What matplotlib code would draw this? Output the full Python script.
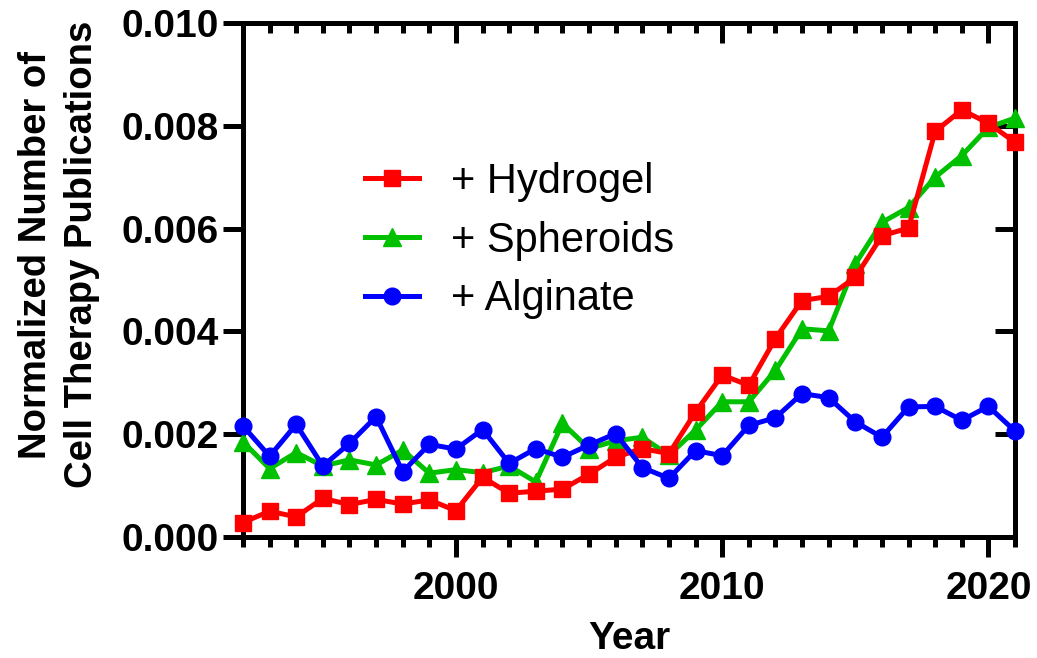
import numpy as np
import matplotlib
matplotlib.use("Agg")
import matplotlib.pyplot as plt
from matplotlib.ticker import MultipleLocator, FormatStrFormatter

plt.rcParams['font.family'] = ['Liberation Sans', 'DejaVu Sans']

years = list(range(1992, 2022))

hydrogel = [0.00028, 0.00050, 0.00039, 0.00075, 0.00063, 0.00073, 0.00064, 0.00072,
            0.00051, 0.00116, 0.00085, 0.00089, 0.00093, 0.00122, 0.00155, 0.00172,
            0.00162, 0.00243, 0.00315, 0.00295, 0.00386, 0.00460, 0.00468, 0.00505,
            0.00586, 0.00601, 0.00789, 0.00831, 0.00805, 0.00768]

spheroids = [0.00185, 0.00133, 0.00164, 0.00138, 0.00150, 0.00140, 0.00169, 0.00124,
             0.00131, 0.00125, 0.00138, 0.00107, 0.00221, 0.00172, 0.00187, 0.00194,
             0.00159, 0.00208, 0.00263, 0.00263, 0.00324, 0.00405, 0.00401, 0.00531,
             0.00612, 0.00641, 0.00700, 0.00742, 0.00797, 0.00815]

alginate = [0.00216, 0.00157, 0.00219, 0.00138, 0.00182, 0.00234, 0.00127, 0.00180,
            0.00171, 0.00209, 0.00143, 0.00172, 0.00155, 0.00179, 0.00201, 0.00135,
            0.00114, 0.00168, 0.00158, 0.00217, 0.00232, 0.00279, 0.00271, 0.00224,
            0.00194, 0.00253, 0.00254, 0.00227, 0.00254, 0.00206]

RED = '#ff0000'
GREEN = '#00c000'
BLUE = '#0000ff'

fig = plt.figure(figsize=(10.37, 6.58), dpi=100)
ax = fig.add_axes([0.2343, 0.184, 0.7445, 0.781])

lw = 3.6
ms = 12
g, = ax.plot(years, spheroids, color=GREEN, lw=lw, marker='^', ms=ms + 1,
             clip_on=False, zorder=3, label='+ Spheroids')
r, = ax.plot(years, hydrogel, color=RED, lw=lw, marker='s', ms=ms,
             clip_on=False, zorder=4, label='+ Hydrogel')
b, = ax.plot(years, alginate, color=BLUE, lw=lw, marker='o', ms=ms,
             clip_on=False, zorder=5, label='+ Alginate')

ax.set_xlim(1992, 2021)
ax.set_ylim(0, 0.010)

for s in ax.spines.values():
    s.set_linewidth(3.6)

ax.xaxis.set_major_locator(MultipleLocator(10))
ax.xaxis.set_minor_locator(MultipleLocator(1))
ax.yaxis.set_major_locator(MultipleLocator(0.002))
ax.yaxis.set_major_formatter(FormatStrFormatter('%.3f'))

ax.tick_params(axis='both', which='both', direction='out', width=3.6)
ax.tick_params(axis='both', which='major', length=14.4)
ax.tick_params(axis='both', which='minor', length=7.2)
ax.tick_params(axis='x', which='major', pad=10)
ax.tick_params(axis='y', which='major', pad=3)

for lab in ax.get_yticklabels() + ax.get_xticklabels():
    lab.set_fontsize(28)
    lab.set_fontweight('bold')

# top and right axes carry inward ticks only
top = ax.secondary_xaxis('top')
top.xaxis.set_major_locator(MultipleLocator(10))
top.xaxis.set_minor_locator(MultipleLocator(1))
top.tick_params(which='both', direction='in', width=3.6, labeltop=False)
top.tick_params(which='major', length=14.4)
top.tick_params(which='minor', length=7.2)
top.spines['top'].set_linewidth(3.6)

right = ax.secondary_yaxis('right')
right.yaxis.set_major_locator(MultipleLocator(0.002))
right.tick_params(which='both', direction='in', width=3.6, length=14.4, labelright=False)
right.spines['right'].set_linewidth(3.6)

ax.set_xlabel('Year', fontsize=28, fontweight='bold', labelpad=10)
ax.set_ylabel('Normalized Number of\nCell Therapy Publications', fontsize=27.5,
              fontweight='bold', linespacing=1.35)
ax.yaxis.set_label_coords(-0.185, 0.549)

leg = ax.legend(handles=[r, g, b], loc='upper left', bbox_to_anchor=(0.158, 0.73),
                frameon=False, fontsize=30, handlelength=1.3, handletextpad=0.76,
                labelspacing=0.45, borderpad=0, borderaxespad=0, markerscale=1.0)

fig.savefig('out.png', dpi=100)
